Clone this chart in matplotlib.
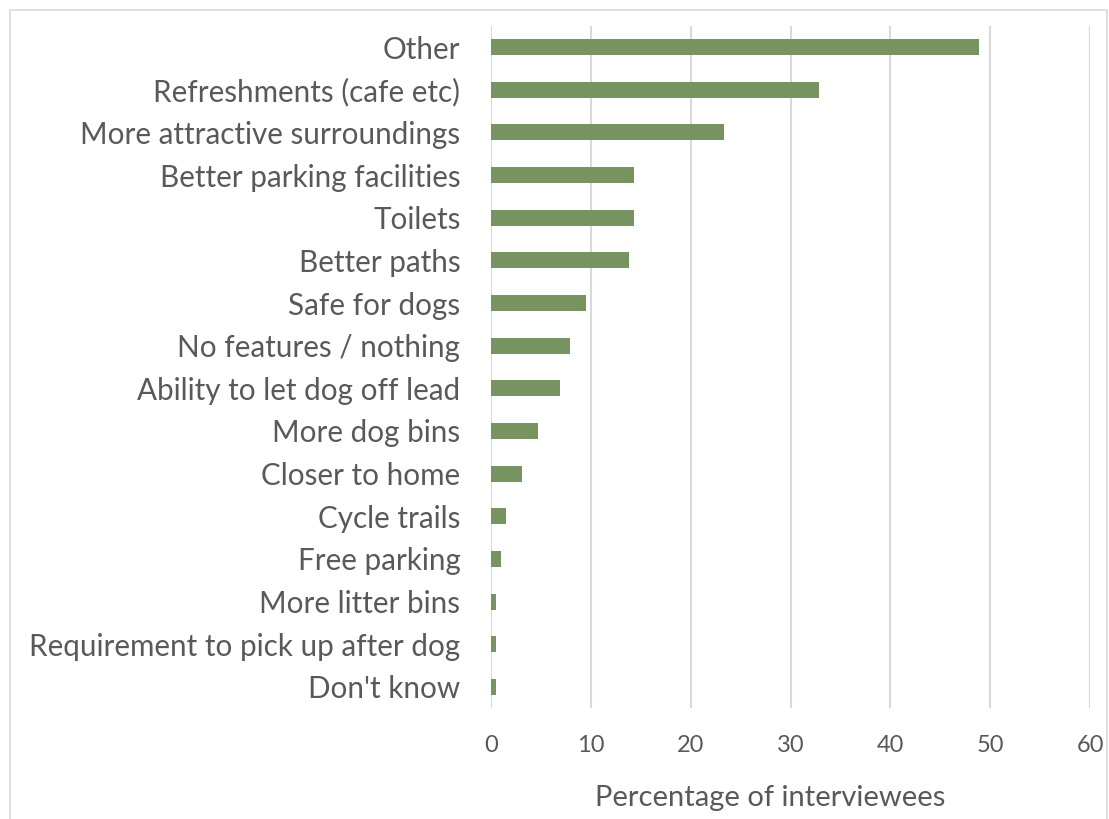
import matplotlib.pyplot as plt
from matplotlib.patches import Rectangle

# survey answers, top of the chart first
features = ["Other", "Refreshments (cafe etc)", "More attractive surroundings",
            "Better parking facilities", "Toilets", "Better paths", "Safe for dogs",
            "No features / nothing", "Ability to let dog off lead", "More dog bins",
            "Closer to home", "Cycle trails", "Free parking", "More litter bins",
            "Requirement to pick up after dog", "Don't know"]
percent = [48.9, 32.9, 23.3, 14.3, 14.3, 13.8, 9.5, 7.9, 6.9, 4.7, 3.1, 1.5, 1.0, 0.5, 0.5, 0.5]
xticks = [0, 10, 20, 30, 40, 50, 60]

text_color = "#595959"
bar_color = "#77935F"
grid_color = "#D9D9D9"

plt.rcParams["font.family"] = ["Lato", "DejaVu Sans"]

W, H = 1109, 819
fig = plt.figure(figsize=(W / 100, H / 100), dpi=100)
ax = fig.add_axes([491 / W, 1 - 708.3 / H, (1090 - 491) / W, (708.3 - 25.7) / H])

ypos = list(range(len(features)))
ax.barh(ypos, percent, height=0.38, color=bar_color, zorder=3)
ax.set_ylim(len(features) - 0.5, -0.5)
ax.set_xlim(0, 60)
ax.set_xticks(xticks)
ax.set_xticklabels([str(t) for t in xticks], fontsize=17, color=text_color)
ax.set_yticks(ypos)
ax.set_yticklabels(features, fontsize=21.3, color=text_color)
ax.tick_params(axis="y", length=0, pad=22)
ax.tick_params(axis="x", length=0, pad=19)
ax.xaxis.grid(True, color=grid_color, linewidth=1.5, zorder=0)
for s in ax.spines.values():
    s.set_visible(False)
ax.set_xlabel("Percentage of interviewees", fontsize=21, color=text_color)
ax.xaxis.set_label_coords(0.466, -0.113)

# light frame round the whole chart
fig.patches.append(Rectangle((10 / W, -0.1), (W - 12) / W, 1.1 - 10 / H,
                             transform=fig.transFigure, fill=False,
                             edgecolor=grid_color, linewidth=1.2))

fig.savefig("out.png", dpi=100)
